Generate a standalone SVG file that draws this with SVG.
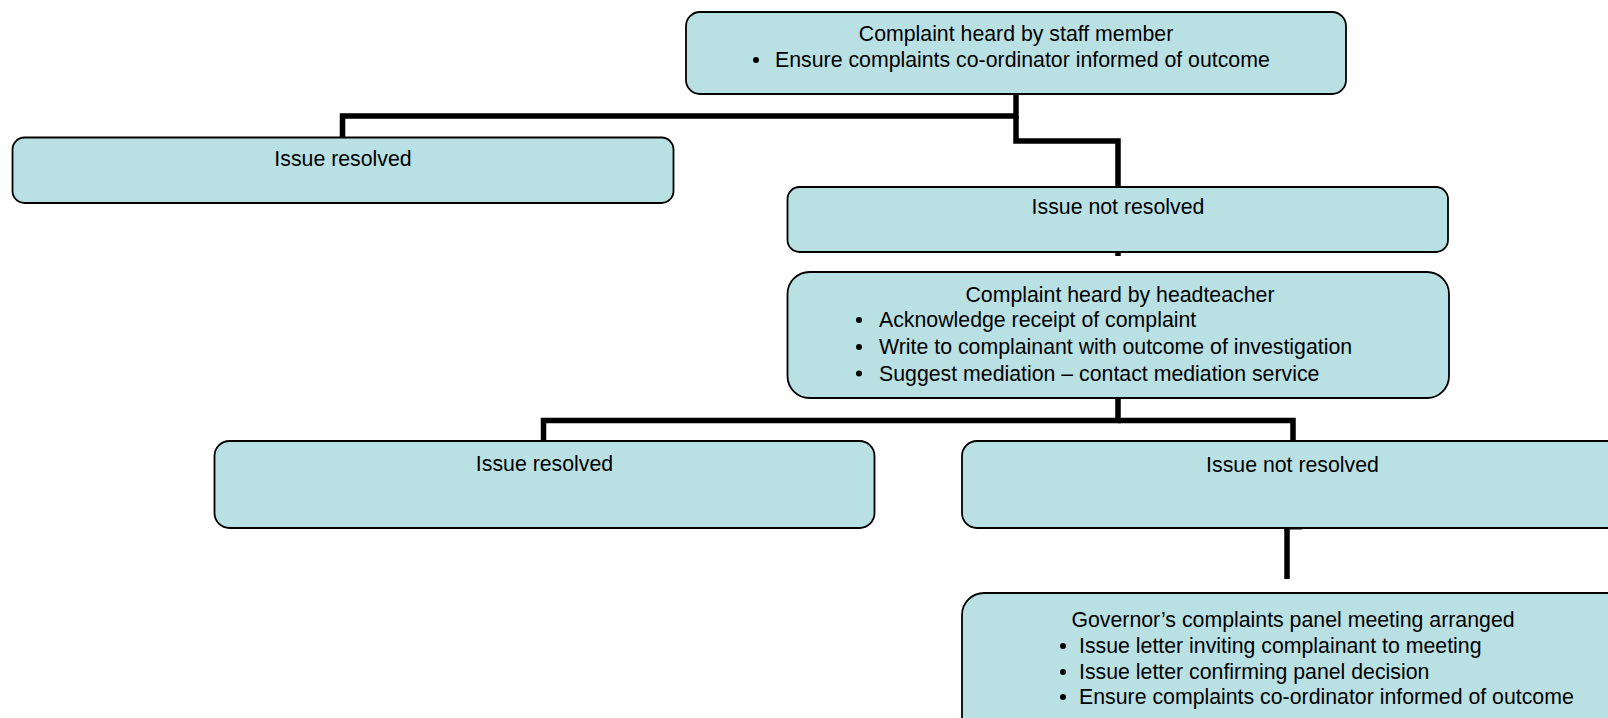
<svg xmlns="http://www.w3.org/2000/svg" width="1608" height="718" viewBox="0 0 1608 718">
<style>
.box{fill:#b9e0e3;stroke:#000;stroke-width:1.8}
.t{font-family:"Liberation Sans",Arial,sans-serif;font-size:21.3px;fill:#000}
.c{text-anchor:middle}
.conn{fill:none;stroke:#000;stroke-width:5.5;stroke-linejoin:miter;stroke-linecap:butt}
</style>
<rect width="1608" height="718" fill="#fff"/>
<g id="connectors">
<path class="conn" d="M1016 94V116H342.5V137"/>
<path class="conn" d="M1016 116V141H1118V187"/>
<path class="conn" d="M1118 252V256"/>
<path class="conn" d="M1118 398V420.5H543.5V441"/>
<path class="conn" d="M1118 420.5H1293V441"/>
<path class="conn" d="M1287 528V579"/>
<path d="M1284 528.5H1302" stroke="#000" stroke-width="2"/>
</g>
<g id="n1">
<rect class="box" x="686" y="12" width="660" height="82" rx="14"/>
<text class="t c" x="1016" y="40.5">Complaint heard by staff member</text>
<circle cx="756" cy="60" r="3"/>
<text class="t" x="775" y="66.5">Ensure complaints co-ordinator informed of outcome</text>
</g>
<g id="n2">
<rect class="box" x="12.5" y="137.5" width="661" height="65.5" rx="12"/>
<text class="t c" x="343" y="166">Issue resolved</text>
</g>
<g id="n3">
<rect class="box" x="787.5" y="187" width="660.5" height="65" rx="12"/>
<text class="t c" x="1118" y="214">Issue not resolved</text>
</g>
<g id="n4">
<rect class="box" x="787.5" y="272" width="661.5" height="126" rx="22"/>
<text class="t c" x="1120" y="301.5">Complaint heard by headteacher</text>
<circle cx="859" cy="320" r="3"/>
<text class="t" x="879" y="327">Acknowledge receipt of complaint</text>
<circle cx="859" cy="347" r="3"/>
<text class="t" x="879" y="354">Write to complainant with outcome of investigation</text>
<circle cx="859" cy="373.5" r="3"/>
<text class="t" x="879" y="380.5">Suggest mediation – contact mediation service</text>
</g>
<g id="n5">
<rect class="box" x="214.5" y="441" width="660" height="87" rx="15"/>
<text class="t c" x="544.5" y="470.5">Issue resolved</text>
</g>
<g id="n6">
<rect class="box" x="962" y="441" width="680" height="87" rx="15"/>
<text class="t c" x="1292.5" y="471.5">Issue not resolved</text>
</g>
<g id="n7">
<rect class="box" x="962" y="593" width="680" height="160" rx="22"/>
<text class="t c" x="1293" y="626.5">Governor’s complaints panel meeting arranged</text>
<circle cx="1063" cy="646" r="3"/>
<text class="t" x="1079" y="653">Issue letter inviting complainant to meeting</text>
<circle cx="1063" cy="672" r="3"/>
<text class="t" x="1079" y="679">Issue letter confirming panel decision</text>
<circle cx="1063" cy="697" r="3"/>
<text class="t" x="1079" y="704">Ensure complaints co-ordinator informed of outcome</text>
</g>
</svg>
